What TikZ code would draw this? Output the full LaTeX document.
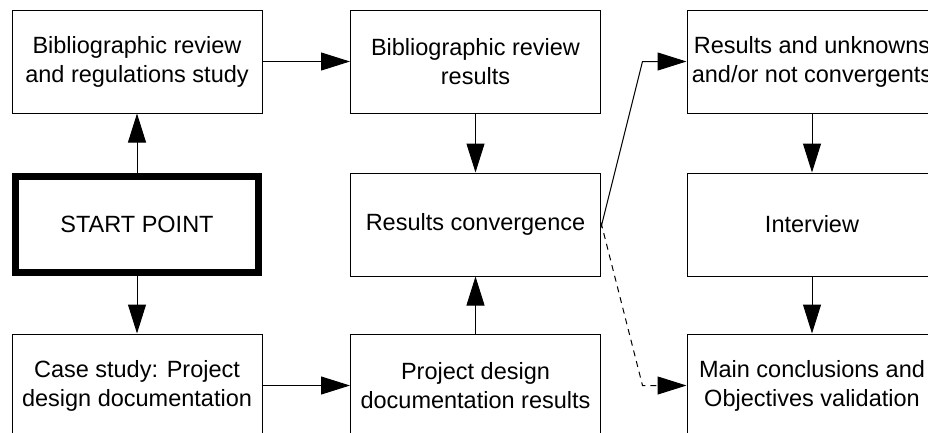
\documentclass[tikz,border=0pt]{standalone}
\usepackage{fontspec}
\setmainfont{Liberation Sans}
\usetikzlibrary{arrows.meta}
\begin{document}
\begin{tikzpicture}[x=1pt,y=-1pt,
  box/.style={draw=black,line width=1pt,minimum width=250pt,minimum height=103pt,
    align=center,inner sep=0pt,font=\fontsize{23.5}{29}\selectfont},
  startbox/.style={box,line width=7pt,minimum width=243pt,minimum height=96pt},
  arr/.style={line width=1pt,-{Triangle[length=29pt,width=18pt]}},
  darr/.style={arr,dash pattern=on 6pt off 5pt}]
\useasboundingbox (0,0) rectangle (928,432);
\clip (0,0) rectangle (928,432);
% left column
\node[box] (bib) at (137,61.5) {Bibliographic review\\and regulations study};
\node[startbox] (start) at (137,224) {START POINT};
\node[box] (case) at (137,385.5) {Case study: Project\\design documentation};
% middle column
\node[box] (bibres) at (475.5,61.5) {Bibliographic review\\results};
\node[box] (conv) at (475.5,224.5) {Results convergence};
\node[box] (pdr) at (475.5,385.5) {Project design\\documentation results};
% right column
\node[box] (ru) at (812,61.5) {Results and unknowns\\and/or not convergents};
\node[box] (int) at (812,224.5) {Interview};
\node[box] (mc) at (812,385.5) {Main conclusions and\\Objectives validation};
% connectors
\draw[arr] (start.north) -- (bib.south);
\draw[arr] (start.south) -- (case.north);
\draw[arr] (bib.east) -- (bibres.west);
\draw[arr] (case.east) -- (pdr.west);
\draw[arr] (bibres.south) -- (conv.north);
\draw[arr] (pdr.north) -- (conv.south);
\draw[arr] ([yshift=-3pt]conv.east) -- ([xshift=-44pt]ru.west) -- (ru.west);
\draw[darr] ([yshift=2pt]conv.east) -- ([xshift=-44pt]mc.west) -- (mc.west);
\draw[arr] (ru.south) -- (int.north);
\draw[arr] (int.south) -- (mc.north);
\end{tikzpicture}
\end{document}
